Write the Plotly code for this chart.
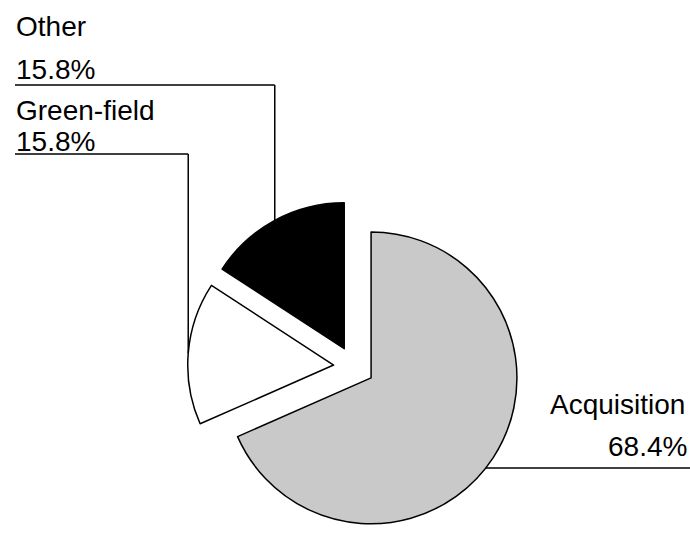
import math
import plotly.graph_objects as go

# Entry modes and their shares (%)
labels = ["Acquisition", "Green-field", "Other"]
shares = [68.4, 15.8, 15.8]
pct_labels = ["68.4%", "15.8%", "15.8%"]
colors = ["#c9c9c9", "#ffffff", "#000000"]

W, H = 690, 533
dom_x = [0.15, 0.876]
dom_y = [0.0, 0.624]
pull = 0.14

fig = go.Figure(
    go.Pie(
        labels=labels,
        values=shares,
        sort=False,
        direction="clockwise",
        rotation=0,
        pull=[pull] * len(shares),
        marker=dict(colors=colors, line=dict(color="black", width=1.5)),
        textinfo="none",
        hoverinfo="skip",
        domain=dict(x=dom_x, y=dom_y),
        showlegend=False,
    )
)

# Pie geometry in pixels (same layout rules plotly.js applies)
rx = W * (dom_x[1] - dom_x[0]) / 2
ry = H * (dom_y[1] - dom_y[0]) / 2
r = min(rx, ry) / (1 + pull)
cx = W * (dom_x[0] + dom_x[1]) / 2
cy = H * (1 - dom_y[0]) - ry

total = sum(shares)
mids = []
acc = 0.0
for v in shares:
    mids.append((acc + v / 2) / total * 2 * math.pi)
    acc += v


def slice_center(i):
    t = mids[i]
    return cx + pull * r * math.sin(t), cy - pull * r * math.cos(t)


def arc_mid(i):
    sx, sy = slice_center(i)
    t = mids[i]
    return sx + r * math.sin(t), sy - r * math.cos(t)


def px(x):
    return x / W


def py(y):
    return 1 - y / H


line_style = dict(color="black", width=1.5)
shapes = []


def seg(x0, y0, x1, y1):
    shapes.append(dict(type="line", xref="paper", yref="paper",
                       x0=px(x0), y0=py(y0), x1=px(x1), y1=py(y1),
                       line=line_style))


LEFT = 15
# Other: leader from the slice's outer midpoint up to its label
ox, oy = arc_mid(2)
other_rule = 85
seg(ox, oy, ox, other_rule)
seg(ox, other_rule, LEFT, other_rule)

# Green-field
gx, gy = arc_mid(1)
green_rule = 154
seg(gx, gy, gx, green_rule)
seg(gx, green_rule, LEFT, green_rule)

# Acquisition: horizontal rule meeting the arc on the right
acq_rule = 468
sx, sy = slice_center(0)
ax = sx + math.sqrt(max(r * r - (acq_rule - sy) ** 2, 0))
seg(ax, acq_rule, W, acq_rule)

font = dict(family="Liberation Sans, Arial, sans-serif", size=28, color="black")
annotations = []


def label(text, x, y, anchor):
    annotations.append(dict(text=text, x=px(x), y=py(y), xref="paper", yref="paper",
                            xanchor=anchor, yanchor="middle", showarrow=False, font=font))


label(labels[2], LEFT - 1, 26.5, "left")
label(pct_labels[2], LEFT - 1, 69.5, "left")
label(labels[1], LEFT - 1, 110.5, "left")
label(pct_labels[1], LEFT - 1, 142, "left")
label(labels[0], 687, 404.5, "right")
label(pct_labels[0], 689, 446, "right")

fig.update_layout(
    width=W,
    height=H,
    margin=dict(l=0, r=0, t=0, b=0),
    paper_bgcolor="white",
    plot_bgcolor="white",
    shapes=shapes,
    annotations=annotations,
)

fig.write_html("out.html")
